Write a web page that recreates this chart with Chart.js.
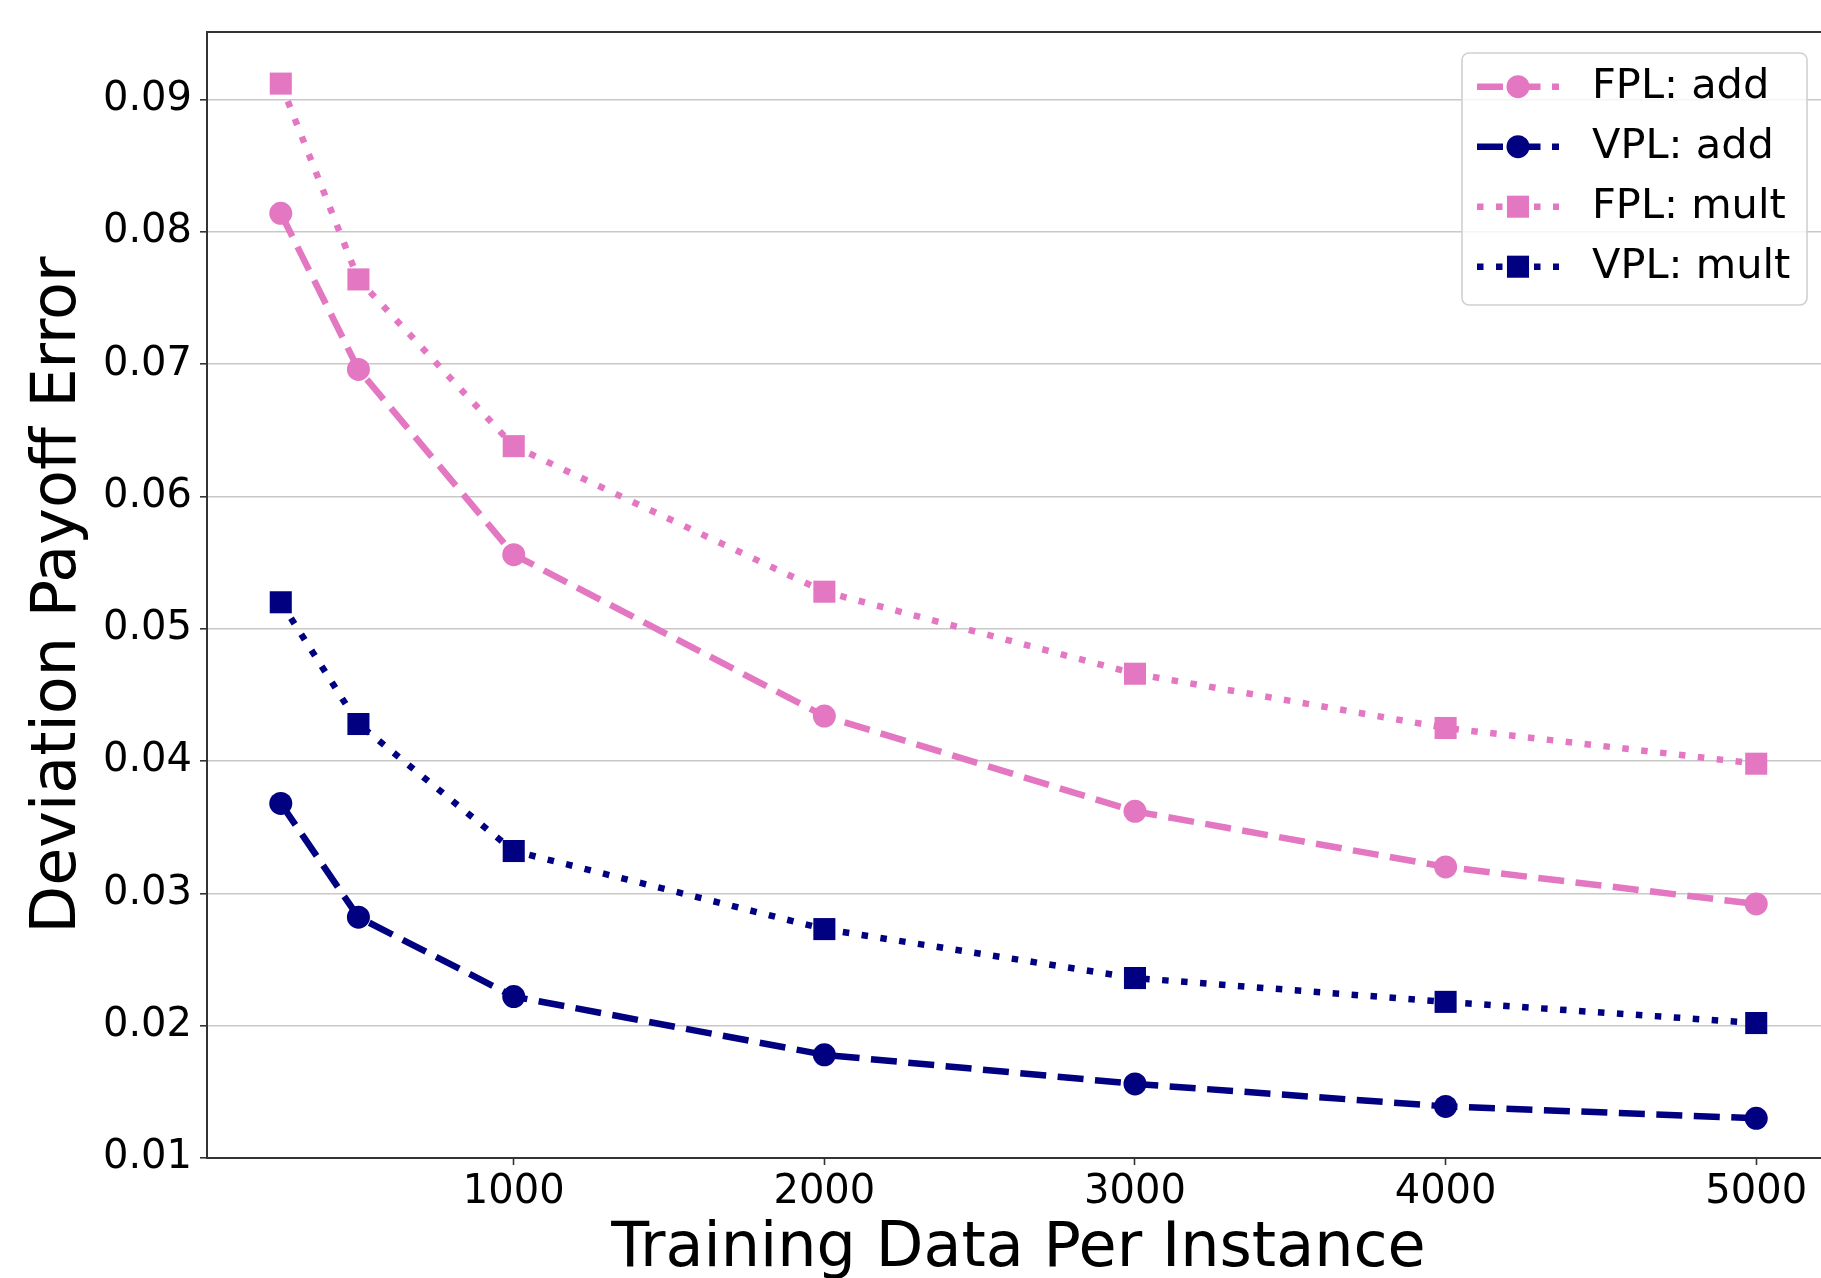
<!DOCTYPE html>
<html>
<head>
<meta charset="utf-8">
<title>Deviation Payoff Error</title>
<script src="https://cdn.jsdelivr.net/npm/chart.js@4.4.1/dist/chart.umd.min.js"></script>
<style>
    html, body { margin: 0; padding: 0; background: #fff; overflow: hidden; }
    #chartWrap { width: 1835px; height: 1278px; }
</style>
</head>
<body>
<div id="chartWrap"><canvas id="errChart" width="1835" height="1278"></canvas></div>
<script>
// data
const trainSizes = [250, 500, 1000, 2000, 3000, 4000, 5000];
const fplAdd = [0.0814, 0.0696, 0.0556, 0.0434, 0.0362, 0.0320, 0.0292];
const vplAdd = [0.0368, 0.0282, 0.0222, 0.0178, 0.0156, 0.0139, 0.0130];
const fplMult = [0.0912, 0.0764, 0.0638, 0.0528, 0.0466, 0.0425, 0.0398];
const vplMult = [0.0520, 0.0428, 0.0332, 0.0273, 0.0236, 0.0218, 0.0202];
const seriesLabels = ['FPL: add', 'VPL: add', 'FPL: mult', 'VPL: mult'];
const xTicks = [1000, 2000, 3000, 4000, 5000];
const yTicks = [0.01, 0.02, 0.03, 0.04, 0.05, 0.06, 0.07, 0.08, 0.09];

const PINK = '#e377c2';
const NAVY = '#000080';
const FONT = '"DejaVu Sans", "Liberation Sans", sans-serif';
const DASHED = [26, 11.5];
const DOTTED = [6.5, 12.5];

function toPoints(values) {
    return values.map((v, i) => ({ x: trainSizes[i], y: v }));
}

function makeSeries(label, values, color, dash, style) {
    const isRect = style === 'rect';
    return {
        label: label,
        data: toPoints(values),
        borderColor: color,
        backgroundColor: color,
        borderWidth: 6.5,
        borderDash: dash,
        borderCapStyle: 'butt',
        tension: 0,
        pointStyle: style,
        pointRadius: isRect ? 15.6 : 11.5,
        pointBorderWidth: 0,
        pointBackgroundColor: color,
        pointBorderColor: color
    };
}

// axes frame drawn over the lines, like matplotlib spines
const framePlugin = {
    id: 'frame',
    afterDatasetsDraw(chart) {
        const { ctx, chartArea: a } = chart;
        ctx.save();
        ctx.strokeStyle = '#333';
        ctx.lineWidth = 2;
        ctx.strokeRect(a.left, a.top, a.right - a.left, a.bottom - a.top);
        ctx.restore();
    }
};

// legend box in the upper right, line + marker handles
const legendPlugin = {
    id: 'mplLegend',
    afterDraw(chart) {
        const ctx = chart.ctx;
        const box = { x: 1462, y: 53, w: 345, h: 252 };
        ctx.save();
        ctx.beginPath();
        ctx.roundRect(box.x, box.y, box.w, box.h, 7);
        ctx.fillStyle = 'rgba(255,255,255,0.8)';
        ctx.fill();
        ctx.strokeStyle = '#d0d0d0';
        ctx.lineWidth = 1.6;
        ctx.stroke();

        chart.data.datasets.forEach(function (ds, i) {
            const y = 86.7 + i * 60;
            const x0 = 1477, x1 = 1559, xm = 1518;
            ctx.beginPath();
            ctx.setLineDash(ds.borderDash);
            ctx.lineDashOffset = 0;
            ctx.lineCap = 'butt';
            ctx.lineWidth = ds.borderWidth;
            ctx.strokeStyle = ds.borderColor;
            ctx.moveTo(x0, y);
            ctx.lineTo(x1, y);
            ctx.stroke();
            ctx.setLineDash([]);

            ctx.fillStyle = ds.borderColor;
            if (ds.pointStyle === 'rect') {
                const s = ds.pointRadius * Math.SQRT1_2;
                ctx.fillRect(xm - s, y - s, 2 * s, 2 * s);
            } else {
                ctx.beginPath();
                ctx.arc(xm, y, ds.pointRadius, 0, Math.PI * 2);
                ctx.fill();
            }

            ctx.fillStyle = '#000';
            ctx.font = '41.5px ' + FONT;
            ctx.textBaseline = 'middle';
            ctx.textAlign = 'left';
            ctx.fillText(ds.label, 1592, y + 1);
        });
        ctx.restore();
    }
};

const ctx = document.getElementById('errChart').getContext('2d');
new Chart(ctx, {
    type: 'line',
    data: {
        datasets: [
            makeSeries(seriesLabels[0], fplAdd, PINK, DASHED, 'circle'),
            makeSeries(seriesLabels[1], vplAdd, NAVY, DASHED, 'circle'),
            makeSeries(seriesLabels[2], fplMult, PINK, DOTTED, 'rect'),
            makeSeries(seriesLabels[3], vplMult, NAVY, DOTTED, 'rect')
        ]
    },
    options: {
        responsive: false,
        animation: false,
        devicePixelRatio: 1,
        layout: {
            autoPadding: false, // keep point radius from shrinking the plot
            padding: { top: 32, right: 5, left: 0, bottom: 0 }
        },
        plugins: {
            legend: { display: false },
            tooltip: { enabled: false }
        },
        scales: {
            x: {
                type: 'linear',
                min: 12.5,
                max: 5237.5,
                afterBuildTicks: function (scale) {
                    scale.ticks = xTicks.map(v => ({ value: v }));
                },
                afterFit: function (scale) {
                    scale.height = 120;
                    scale.paddingLeft = 0;
                    scale.paddingRight = 0;
                },
                border: { display: false },
                grid: {
                    drawOnChartArea: false,
                    drawTicks: true,
                    tickLength: 7,
                    tickColor: '#333',
                    tickWidth: 1.6
                },
                ticks: {
                    color: '#000',
                    padding: 4,
                    maxRotation: 0,
                    autoSkip: false,
                    font: { family: FONT, size: 40 },
                    callback: v => String(v)
                },
                title: {
                    display: true,
                    text: 'Training Data Per Instance',
                    color: '#000',
                    font: { family: FONT, size: 62, lineHeight: 0.8 },
                    padding: { top: 0, bottom: 3 }
                }
            },
            y: {
                type: 'linear',
                min: 0.01,
                max: 0.0951,
                afterBuildTicks: function (scale) {
                    scale.ticks = yTicks.map(v => ({ value: v }));
                },
                afterFit: function (scale) {
                    scale.width = 207;
                },
                border: { display: false },
                grid: {
                    color: '#c8c8c8',
                    lineWidth: 1.6,
                    drawTicks: true,
                    tickLength: 7,
                    tickColor: '#333',
                    tickWidth: 1.6
                },
                ticks: {
                    color: '#000',
                    padding: 8,
                    autoSkip: false,
                    font: { family: FONT, size: 40 },
                    callback: v => v.toFixed(2)
                },
                title: {
                    display: true,
                    text: 'Deviation Payoff Error',
                    color: '#000',
                    font: { family: FONT, size: 62, lineHeight: 1 },
                    padding: { top: 28, bottom: 0 }
                }
            }
        }
    },
    plugins: [framePlugin, legendPlugin]
});
</script>
</body>
</html>
